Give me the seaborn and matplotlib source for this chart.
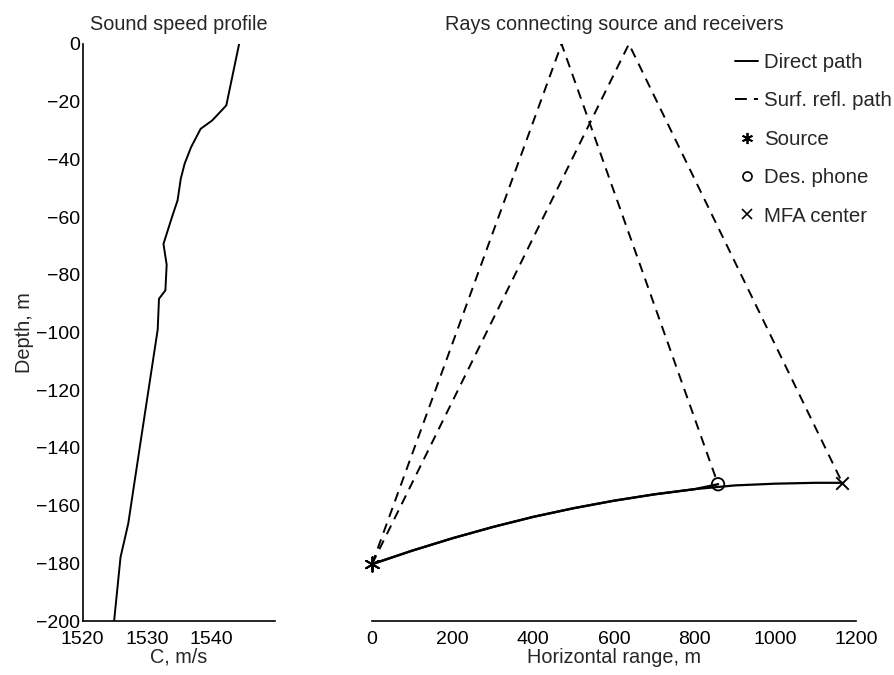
import matplotlib
matplotlib.use("Agg")
import matplotlib.pyplot as plt
from matplotlib.lines import Line2D
import numpy as np
import pandas as pd
import seaborn as sns

# ---- data ----
sound_speed = [1544.4, 1542.4, 1540.2, 1538.4, 1536.9, 1535.9, 1535.3, 1534.8, 1534.0,
               1532.6, 1533.1, 1532.9, 1531.9, 1531.7, 1528.9, 1527.1, 1525.9, 1524.9]
depth = [0, -21.3, -26.5, -29.4, -35.8, -41.5, -46.7, -54.2, -59.5,
         -69.3, -76.5, -85.4, -88.3, -99.0, -139.8, -166.3, -177.9, -200]

direct_range_phone = [0, 100, 200, 300, 400, 500, 600, 700, 800, 858]
direct_depth_phone = [-180.3, -175.6, -171.3, -167.4, -163.9, -160.9, -158.3, -156.1, -154.3, -152.6]
direct_range_mfa = [0, 100, 200, 300, 400, 500, 600, 700, 800, 900, 1000, 1100, 1166]
direct_depth_mfa = [-180.3, -175.6, -171.3, -167.4, -163.9, -160.9, -158.3, -156.1, -154.3,
                    -153.0, -152.4, -152.1, -152.1]

refl_range_phone = [0, 470, 858]
refl_depth_phone = [-180.3, 0, -152.6]
refl_range_mfa = [0, 637, 1166]
refl_depth_mfa = [-180.3, 0, -152.1]

source_range, source_depth = [0], [-180.3]
phone_range, phone_depth = [858], [-152.6]
mfa_range, mfa_depth = [1166], [-152.1]

speed_ticks = [1520, 1530, 1540]
depth_ticks = [0, -20, -40, -60, -80, -100, -120, -140, -160, -180, -200]
range_ticks = [0, 200, 400, 600, 800, 1000, 1200]
legend_labels = ["Direct path", "Surf. refl. path", "Source", "Des. phone", "MFA center"]

# ---- style ----
sns.set_theme(style="white")
plt.rcParams['font.family'] = ['Liberation Sans', 'DejaVu Sans']
FS = 14.3      # titles / axis labels
TFS = 14       # tick labels
LFS = 14.7     # legend
W, H = 895, 675

fig = plt.figure(figsize=(W / 100, H / 100), dpi=100)
ax1 = fig.add_axes([82.7 / W, 1 - 621 / H, (275 - 82.7) / W, 577 / H])
ax2 = fig.add_axes([372 / W, 1 - 621 / H, 484 / W, 577 / H])

dash = (0, (5, 3.6))
LW = 1.4

# left panel: sound speed profile
sns.lineplot(x=sound_speed, y=depth, sort=False, estimator=None, color="black",
             linewidth=LW, ax=ax1)
ax1.set_xlim(1520, 1550)
ax1.set_ylim(-200, 0)
ax1.set_xticks(speed_ticks)
ax1.set_yticks(depth_ticks)
ax1.set_xlabel("C, m/s", fontsize=FS, labelpad=0)
ax1.set_ylabel("Depth, m", fontsize=FS, labelpad=1)
ax1.set_title("Sound speed profile", fontsize=FS, pad=10)
for s in ["top", "right"]:
    ax1.spines[s].set_visible(False)
for s in ["left", "bottom"]:
    ax1.spines[s].set_color("black")
    ax1.spines[s].set_linewidth(1.2)
ax1.tick_params(direction="in", length=4, width=1, colors="black", labelsize=TFS)
ax1.tick_params(axis="y", pad=2)
ax1.tick_params(axis="x", pad=7)

# right panel: rays
sns.lineplot(x=direct_range_phone, y=direct_depth_phone, sort=False, estimator=None,
             color="black", linewidth=1.7, ax=ax2)
sns.lineplot(x=direct_range_mfa, y=direct_depth_mfa, sort=False, estimator=None,
             color="black", linewidth=1.6, ax=ax2)
sns.lineplot(x=refl_range_phone, y=refl_depth_phone, sort=False, estimator=None,
             color="black", linewidth=LW, linestyle=dash, ax=ax2)
sns.lineplot(x=refl_range_mfa, y=refl_depth_mfa, sort=False, estimator=None,
             color="black", linewidth=LW, linestyle=dash, ax=ax2)
ast = (6, 2, 0)
sns.scatterplot(x=source_range, y=source_depth, marker=ast, s=110, color="black",
                linewidth=1.4, ax=ax2, clip_on=False, zorder=5)
sns.scatterplot(x=phone_range, y=phone_depth, marker="o", s=80, facecolor="none",
                edgecolor="black", linewidth=1.3, ax=ax2, zorder=5)
sns.scatterplot(x=mfa_range, y=mfa_depth, marker="x", s=80, color="black",
                linewidth=1.4, ax=ax2, zorder=5)
ax2.set_xlim(0, 1200)
ax2.set_ylim(-200, 0)
ax2.set_xticks(range_ticks)
ax2.set_yticks([])
ax2.set_xlabel("Horizontal range, m", fontsize=FS, labelpad=0)
ax2.set_ylabel("")
ax2.set_title("Rays connecting source and receivers", fontsize=FS, pad=10)
for s in ["top", "right", "left"]:
    ax2.spines[s].set_visible(False)
ax2.spines["bottom"].set_color("black")
ax2.spines["bottom"].set_linewidth(1.2)
ax2.tick_params(axis="x", direction="in", length=4, width=1, colors="black",
                labelsize=TFS, pad=7)

handles = [
    Line2D([], [], color="black", linewidth=LW),
    Line2D([], [], color="black", linewidth=LW, linestyle=(0, (6.1, 3.6))),
    Line2D([], [], color="black", linestyle="none", marker=ast, markersize=8, markeredgewidth=1.3),
    Line2D([], [], color="black", linestyle="none", marker="o", markersize=6.5,
           markerfacecolor="none", markeredgewidth=1.2),
    Line2D([], [], color="black", linestyle="none", marker="x", markersize=6.5, markeredgewidth=1.2),
]
fig.legend(handles, legend_labels, loc="upper left", bbox_to_anchor=(735 / W, 1 - 53 / H),
           frameon=False, fontsize=LFS, borderpad=0, borderaxespad=0,
           handlelength=1.15, handletextpad=0.25, labelspacing=0.95)

fig.savefig("out.png", dpi=100, facecolor="white")
